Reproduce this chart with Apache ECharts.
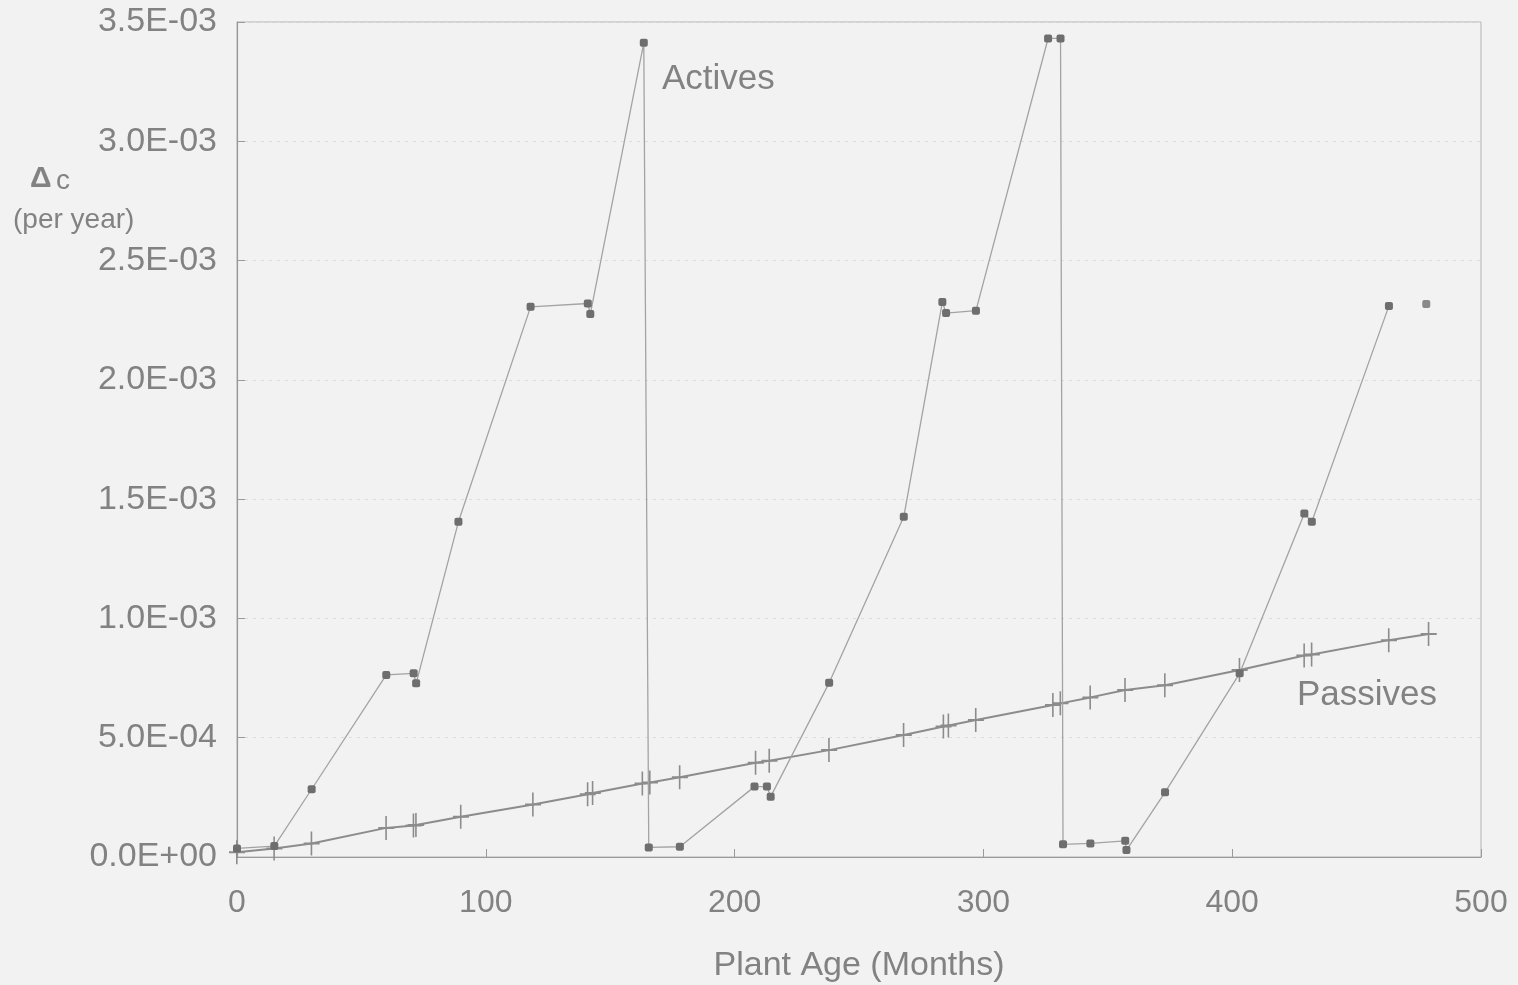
<!DOCTYPE html>
<html>
<head>
<meta charset="utf-8">
<script src="https://cdn.jsdelivr.net/npm/echarts@6/dist/echarts.min.js"></script>
<style>
html,body{margin:0;padding:0;background:#f2f2f2;}
#c{width:1518px;height:985px;}
</style>
</head>
<body>
<div id="c"></div>
<script>
// Plant age (months) and ΔC (per year) for active components
const activesX = [0, 15, 30, 60, 71, 72, 89, 118, 141, 142, 163.5, 165.5, 178, 208, 213, 214.5, 238, 268, 283.5, 285, 297, 326, 331, 332, 343, 357, 357.5, 373, 403, 429, 432, 463];
const activesY = [3.6e-5, 4.6e-5, 2.84e-4, 7.63e-4, 7.7e-4, 7.28e-4, 1.405e-3, 2.306e-3, 2.32e-3, 2.276e-3, 3.413e-3, 4.0e-5, 4.3e-5, 2.95e-4, 2.95e-4, 2.53e-4, 7.3e-4, 1.426e-3, 2.326e-3, 2.28e-3, 2.29e-3, 3.431e-3, 3.431e-3, 5.3e-5, 5.7e-5, 6.8e-5, 2.9e-5, 2.71e-4, 7.7e-4, 1.44e-3, 1.405e-3, 2.31e-3];
// isolated final active point (not joined)
const activesLoneX = [478];
const activesLoneY = [2.318e-3];
// Passive components
const passivesX = [0, 15, 30, 60, 71, 72, 90, 119, 141, 143, 163, 166, 178, 208.5, 214, 238, 268, 284, 286, 297, 328, 331, 343, 357, 373, 403, 429, 432, 463, 479];
const passivesY = [2.0e-5, 3.6e-5, 5.7e-5, 1.22e-4, 1.32e-4, 1.34e-4, 1.69e-4, 2.2e-4, 2.63e-4, 2.68e-4, 3.08e-4, 3.12e-4, 3.34e-4, 3.95e-4, 4.03e-4, 4.48e-4, 5.11e-4, 5.47e-4, 5.51e-4, 5.74e-4, 6.37e-4, 6.44e-4, 6.69e-4, 7.0e-4, 7.2e-4, 7.84e-4, 8.45e-4, 8.49e-4, 9.09e-4, 9.35e-4];
// Tick labels
const xTickLabels = ['0', '100', '200', '300', '400', '500'];
const yTickLabels = ['0.0E+00', '5.0E-04', '1.0E-03', '1.5E-03', '2.0E-03', '2.5E-03', '3.0E-03', '3.5E-03'];

const pair = (xs, ys) => xs.map((x, i) => [x, ys[i]]);
const TXT = '#828282';
const AX = '#9a9a9a';
const FF = '"Liberation Sans", Arial, sans-serif';

const chart = echarts.init(document.getElementById('c'), null, {renderer: 'canvas'});
chart.setOption({
  backgroundColor: '#f2f2f2',
  animation: false,
  grid: {left: 237, right: 37, top: 22, bottom: 128, outerBoundsMode: 'none', containLabel: false,
    show: true, borderColor: '#b4b4b4', borderWidth: 1, backgroundColor: 'transparent'},
  xAxis: {
    type: 'value', min: 0, max: 500, interval: 100,
    axisLine: {show: true, lineStyle: {color: AX, width: 1.2}},
    axisTick: {show: true, inside: true, length: 8, lineStyle: {color: AX}},
    splitLine: {show: false},
    axisLabel: {color: TXT, fontSize: 32, fontFamily: FF, margin: 30,
      formatter: v => xTickLabels[Math.round(v / 100)]},
    name: 'Plant Age (Months)', nameLocation: 'middle', nameGap: 92,
    nameTextStyle: {color: TXT, fontSize: 34, fontFamily: FF}
  },
  yAxis: {
    type: 'value', min: 0, max: 0.0035, interval: 0.0005,
    axisLine: {show: true, lineStyle: {color: AX, width: 1.2}},
    axisTick: {show: true, inside: true, length: 8, lineStyle: {color: AX}},
    splitLine: {show: true, lineStyle: {color: '#dcdcdc', type: [3, 5], width: 1}},
    axisLabel: {color: TXT, fontSize: 34, fontFamily: FF, margin: 20,
      formatter: v => yTickLabels[Math.round(v / 0.0005)]}
  },
  graphic: [
    {type: 'text', left: 662, top: 62, style: {text: 'Actives', fill: TXT, font: '35px ' + FF}},
    {type: 'text', left: 1297, top: 678, style: {text: 'Passives', fill: TXT, font: '35px ' + FF}},
    {type: 'text', left: 30, top: 164, style: {text: 'Δ', fill: TXT, font: 'bold 30px ' + FF}},
    {type: 'text', left: 56, top: 167, style: {text: 'c', fill: TXT, font: '28px ' + FF}},
    {type: 'text', left: 13, top: 206, style: {text: '(per year)', fill: TXT, font: '28px ' + FF}}
  ],
  series: [
    {
      name: 'Passives', type: 'line', data: pair(passivesX, passivesY),
      symbol: 'path://M7,0h1.6v24h-1.6z M0,11h16v2h-16z', symbolSize: [16, 24], symbolKeepAspect: false,
      itemStyle: {color: '#8c8c8c'},
      lineStyle: {color: '#8c8c8c', width: 2},
      z: 2
    },
    {
      name: 'Actives', type: 'line', data: pair(activesX, activesY),
      symbol: 'roundRect', symbolSize: 8,
      itemStyle: {color: '#6e6e6e'},
      lineStyle: {color: '#a3a3a3', width: 1.3},
      z: 3
    },
    {
      name: 'Actives (last)', type: 'scatter', data: pair(activesLoneX, activesLoneY),
      symbol: 'roundRect', symbolSize: 8,
      itemStyle: {color: '#6e6e6e'},
      z: 3
    }
  ]
});
</script>
</body>
</html>
